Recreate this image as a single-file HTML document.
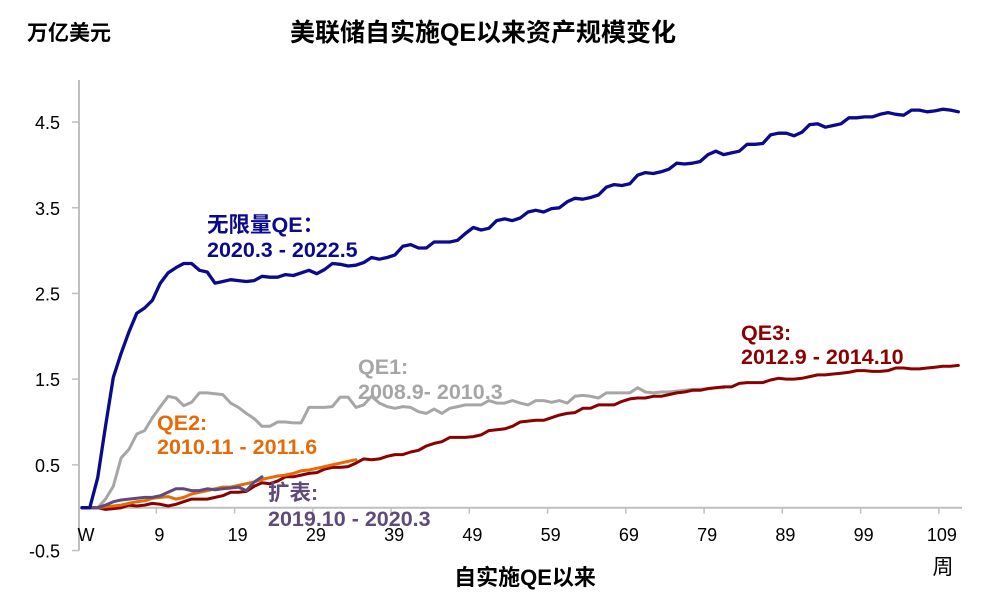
<!DOCTYPE html>
<html><head><meta charset="utf-8"><style>
body{margin:0;background:#fff;width:984px;height:595px;overflow:hidden}
svg text{font-family:"Liberation Sans","Noto Sans CJK SC",sans-serif}
</style></head><body>
<svg id="chart" width="984" height="595" viewBox="0 0 984 595">
<text x="27" y="40" font-size="21" font-weight="bold" fill="#000">万亿美元</text>
<text x="483" y="41" font-size="25" font-weight="bold" fill="#000" text-anchor="middle">美联储自实施QE以来资产规模变化</text>
<text x="525" y="585" font-size="22" font-weight="bold" fill="#000" text-anchor="middle">自实施QE以来</text>
<text x="943" y="574" font-size="21" fill="#000" text-anchor="middle">周</text>
<g id="axes"></g>
<g id="series"></g>
<g font-size="21.5" font-weight="bold">
<text x="207" y="232" fill="#0a0a8c">无限量QE：</text>
<text x="207" y="257" fill="#0a0a8c">2020.3 - 2022.5</text>
<text x="358" y="374" fill="#a6a6a6">QE1:</text>
<text x="358" y="399" fill="#a6a6a6">2008.9- 2010.3</text>
<text x="157" y="430" fill="#e36c09">QE2:</text>
<text x="157" y="454" fill="#e36c09">2010.11 - 2011.6</text>
<text x="268" y="500" fill="#604a7b">扩表:</text>
<text x="268" y="526" fill="#604a7b">2019.10 - 2020.3</text>
<text x="741" y="340" fill="#8b0000">QE3:</text>
<text x="741" y="364" fill="#8b0000">2012.9 - 2014.10</text>
</g>
</svg>
<script>
const yTicks=[-0.5,0.5,1.5,2.5,3.5,4.5];
const xTickLabels=["W","9","19","29","39","49","59","69","79","89","99","109"];
const xTickWeeks=[0,9,19,29,39,49,59,69,79,89,99,109];
const unlimitedQE=[0,0,0.35,0.95,1.52,1.8,2.05,2.27,2.33,2.42,2.62,2.74,2.8,2.85,2.85,2.77,2.75,2.62,2.64,2.66,2.65,2.64,2.65,2.7,2.69,2.69,2.72,2.71,2.74,2.77,2.73,2.78,2.85,2.84,2.82,2.83,2.86,2.92,2.9,2.92,2.95,3.05,3.07,3.03,3.03,3.1,3.1,3.1,3.12,3.2,3.27,3.24,3.26,3.35,3.37,3.35,3.38,3.45,3.47,3.45,3.49,3.5,3.57,3.61,3.6,3.62,3.65,3.74,3.77,3.76,3.78,3.88,3.91,3.9,3.92,3.95,4.02,4.01,4.02,4.04,4.12,4.16,4.12,4.14,4.16,4.24,4.24,4.25,4.35,4.37,4.37,4.34,4.38,4.47,4.48,4.44,4.46,4.48,4.55,4.55,4.56,4.56,4.59,4.61,4.59,4.58,4.64,4.64,4.62,4.63,4.65,4.64,4.62];
const qe3=[0,0,0,-0.02,-0.01,0,0.03,0.02,0.03,0.05,0.04,0.02,0.04,0.07,0.1,0.1,0.1,0.12,0.14,0.18,0.18,0.19,0.25,0.29,0.28,0.31,0.36,0.36,0.38,0.4,0.41,0.45,0.47,0.47,0.48,0.52,0.57,0.56,0.57,0.6,0.62,0.62,0.65,0.67,0.72,0.75,0.77,0.82,0.82,0.82,0.83,0.85,0.9,0.91,0.92,0.95,1.0,1.01,1.02,1.02,1.05,1.08,1.1,1.11,1.16,1.16,1.2,1.2,1.2,1.24,1.27,1.28,1.28,1.3,1.3,1.32,1.34,1.35,1.37,1.37,1.39,1.4,1.41,1.41,1.45,1.46,1.46,1.46,1.49,1.51,1.5,1.5,1.51,1.53,1.55,1.55,1.56,1.57,1.58,1.6,1.6,1.59,1.59,1.6,1.63,1.63,1.62,1.62,1.63,1.64,1.65,1.65,1.66];
const qe1=[0,0,0,0.1,0.25,0.58,0.68,0.86,0.9,1.05,1.18,1.3,1.28,1.19,1.23,1.34,1.34,1.33,1.32,1.22,1.17,1.1,1.04,0.95,0.95,1.0,1.0,0.99,0.99,1.17,1.17,1.17,1.18,1.29,1.29,1.17,1.2,1.3,1.22,1.18,1.16,1.18,1.17,1.12,1.1,1.15,1.1,1.16,1.18,1.2,1.2,1.2,1.25,1.22,1.22,1.25,1.22,1.2,1.25,1.25,1.23,1.25,1.22,1.3,1.31,1.3,1.28,1.34,1.34,1.34,1.34,1.4,1.35,1.34,1.35,1.35,1.36,1.37,1.38,1.38,1.39,1.4,1.4];
const qe2=[0,0,0,0.01,0.02,0.03,0.05,0.07,0.08,0.11,0.12,0.13,0.1,0.12,0.16,0.18,0.2,0.22,0.24,0.24,0.26,0.28,0.3,0.33,0.35,0.37,0.38,0.4,0.43,0.44,0.46,0.48,0.5,0.52,0.54,0.56];
const expansion=[0,0,0,0.03,0.07,0.09,0.1,0.11,0.12,0.12,0.14,0.18,0.22,0.22,0.2,0.2,0.22,0.21,0.22,0.23,0.24,0.2,0.3,0.36];
const NS='http://www.w3.org/2000/svg';
const xS=i=>82+7.825*i;
const yS=v=>507.7-85.7*v;
function mk(tag,attrs,parent){const e=document.createElementNS(NS,tag);for(const k in attrs)e.setAttribute(k,attrs[k]);parent.appendChild(e);return e;}
const ax=document.getElementById('axes');
let yl=mk('line',{x1:79,y1:80,x2:79,y2:yS(-0.5),stroke:'#bfbfbf','stroke-width':2},ax);


yTicks.forEach(v=>{
 const t=mk('line',{x1:72,y1:yS(v),x2:79,y2:yS(v),stroke:'#bfbfbf','stroke-width':1.5},ax);
 
 
 const l=mk('text',{x:60,y:yS(v)+7,'font-size':18,'text-anchor':'end',fill:'#000'},ax);
 l.textContent=v.toFixed(1);
 
 
});
let xl=mk('line',{x1:79,y1:yS(0),x2:962,y2:yS(0),stroke:'#bfbfbf','stroke-width':2},ax);


xTickWeeks.forEach((w,k)=>{
 const tx=k===0?79:xS(w+0.5);
 const t=mk('line',{x1:tx,y1:yS(0),x2:tx,y2:yS(0)+6,stroke:'#bfbfbf','stroke-width':1.5},ax);
 
 
 const l=mk('text',{x:k===0?86:tx+3,y:541,'font-size':18,'text-anchor':'middle',fill:'#000'},ax);
 l.textContent=xTickLabels[k];
 
 
});
const sg=document.getElementById('series');
function line(data,color,name,w){
 const d=data.map((v,i)=>(i?'L':'M')+xS(i).toFixed(1)+','+yS(v).toFixed(1)).join(' ');
 const p=mk('path',{d:d,fill:'none',stroke:color,'stroke-width':w,'stroke-linejoin':'round','stroke-linecap':'round'},sg);
 
 
}
line(qe1,'#a6a6a6','series-qe1',3);
line(qe3,'#8b0000','series-qe3',3);
line(qe2,'#e36c09','series-qe2',3);
line(expansion,'#604a7b','series-expansion',3);
line(unlimitedQE,'#0a0a8c','series-unlimited-qe',3.3);
</script>
</body></html>
